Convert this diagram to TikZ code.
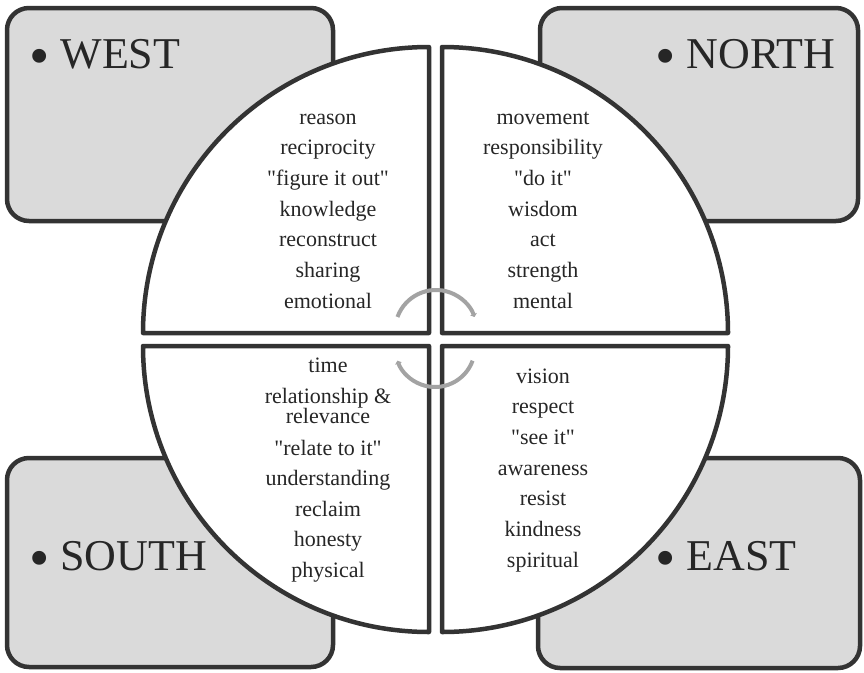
\documentclass[tikz,border=0pt]{standalone}
\usepackage{fontspec}
\setmainfont{Liberation Serif}
\usepackage{tikz}
\usetikzlibrary{arrows.meta}
\definecolor{wheelline}{HTML}{333333}
\definecolor{wheelbox}{HTML}{DADADA}
\definecolor{wheelarrow}{HTML}{A3A3A3}
\definecolor{wheeltext}{HTML}{262626}
\newcommand{\dirdot}{\raisebox{-7pt}{\fontsize{58}{58}\selectfont\textbullet}\ }
\newcommand{\qt}[1]{\textquotedbl#1\textquotedbl}

\begin{document}
\begin{tikzpicture}[
    x=1pt, y=-1pt,
    dirbox/.style={draw=wheelline, fill=wheelbox, line width=4.5pt, rounded corners=22pt},
    quad/.style={draw=wheelline, fill=white, line width=4.5pt, line join=round},
    dirlabel/.style={anchor=base west, inner sep=0pt, text=wheeltext, font=\fontsize{44}{44}\selectfont},
    word/.style={anchor=base, inner sep=0pt, text=wheeltext, font=\fontsize{22}{26}\selectfont},
    cyclearrow/.style={draw=wheelarrow, line width=4pt, -{Triangle[length=3pt, width=7pt]}},
]
\useasboundingbox (0,0) rectangle (864,672);

% corner boxes
\draw[dirbox] (7,8) rectangle (333,221);
\draw[dirbox] (540,8) rectangle (858,221);
\draw[dirbox] (7,458) rectangle (333,667);
\draw[dirbox] (538,458) rectangle (860,668);

\node[dirlabel] (west) at (29,68) {\dirdot WEST};
\node[dirlabel] (north) at (655,68) {\dirdot NORTH};
\node[dirlabel] (south) at (29,570) {\dirdot SOUTH};
\node[dirlabel] (east) at (655,570) {\dirdot EAST};

% wheel quadrants
\draw[quad] (429,333) -- (143,333) arc[start angle=180, end angle=270, radius=286] -- cycle;
\draw[quad] (442,333) -- (442,47) arc[start angle=270, end angle=360, radius=286] -- cycle;
\draw[quad] (442,346) -- (728,346) arc[start angle=0, end angle=90, radius=286] -- cycle;
\draw[quad] (429,346) -- (429,632) arc[start angle=90, end angle=180, radius=286] -- cycle;

% words
\foreach \y/\w [count=\i] in {124/reason, 154.7/reciprocity, 185.3/{\qt{figure it out}}, 216/knowledge,
    246.7/reconstruct, 277.3/sharing, 308/emotional}
  \node[word] (west-\i) at (328,\y) {\w};
\foreach \y/\w [count=\i] in {124/movement, 154.7/responsibility, 185.3/{\qt{do it}}, 216/wisdom,
    246.7/act, 277.3/strength, 308/mental}
  \node[word] (north-\i) at (543,\y) {\w};
\foreach \y/\w [count=\i] in {372/time, 403/relationship \&, 423/relevance, 455/{\qt{relate to it}},
    485.5/understanding, 516/reclaim, 546.5/honesty, 577/physical}
  \node[word] (south-\i) at (328,\y) {\w};
\foreach \y/\w [count=\i] in {383/vision, 413.7/respect, 444.4/{\qt{see it}}, 475/awareness,
    505.8/resist, 536.5/kindness, 567/spiritual}
  \node[word] (east-\i) at (543,\y) {\w};

% cycle arrows
\coordinate (upc) at (436,331);
\coordinate (lowc) at (435,347);
\draw[cyclearrow] (upc) ++(200:41) arc[start angle=200, end angle=340, radius=41];
\draw[cyclearrow] (lowc) ++(20:40) arc[start angle=20, end angle=160, radius=40];

\end{tikzpicture}
\end{document}
